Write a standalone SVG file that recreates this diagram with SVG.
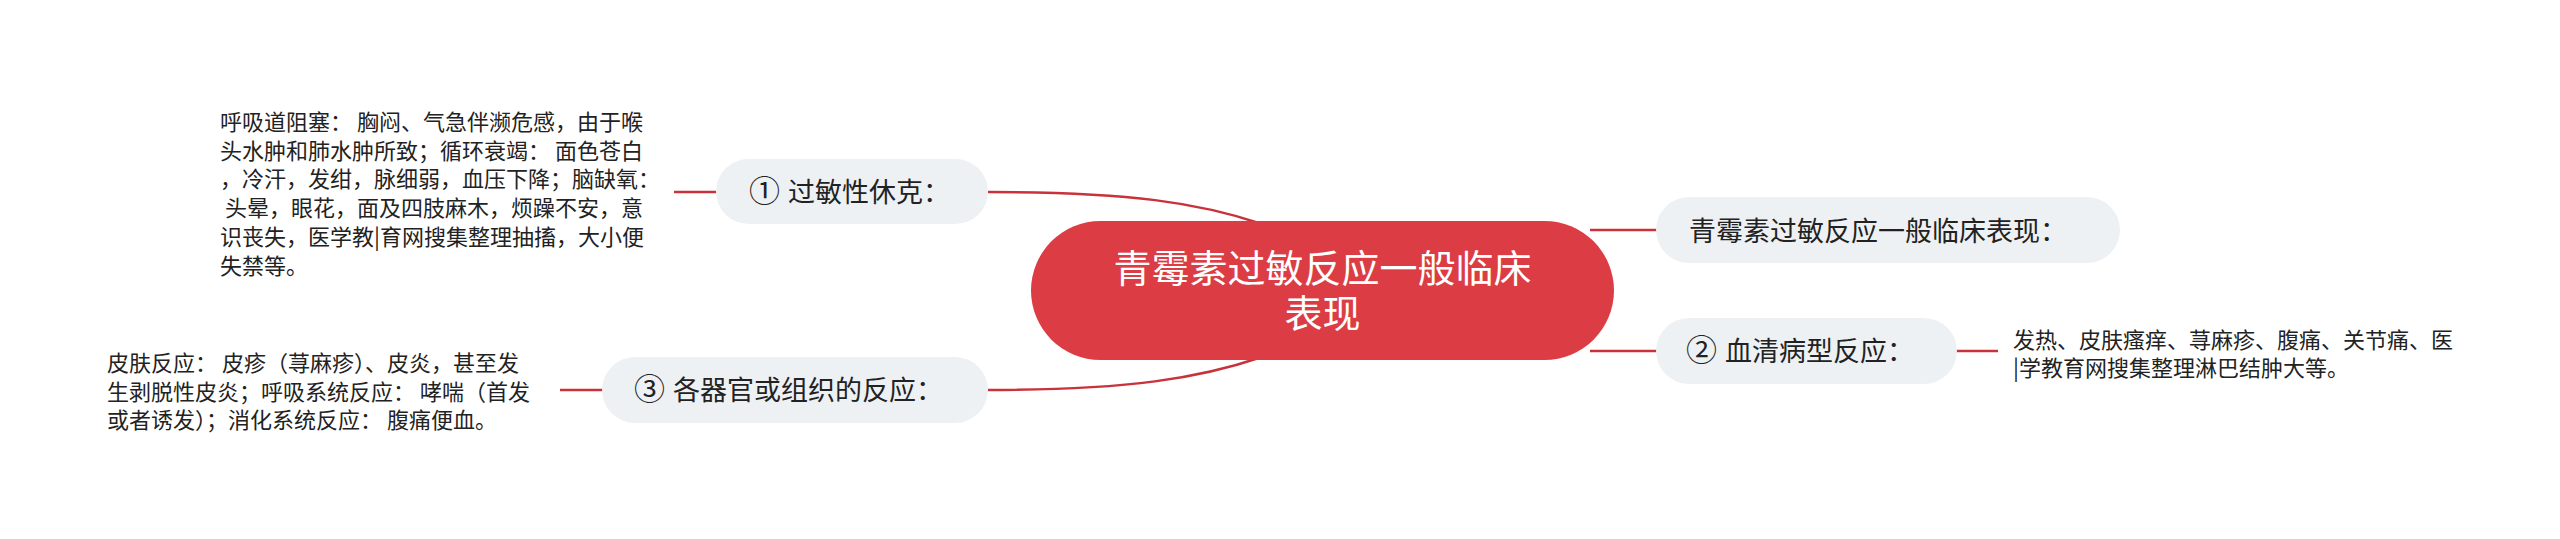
<svg xmlns="http://www.w3.org/2000/svg" width="2560" height="539" viewBox="0 0 2560 539">
<style>
.bg{fill:#ffffff}
.conn{fill:none;stroke:#c9323b;stroke-width:2.5;stroke-linecap:butt}
.sub{fill:#eef1f4}
.root{fill:#dc3d45}
.t{font-family:"Noto Sans CJK SC","Noto Sans",sans-serif;fill:#222222}
.leaf{font-size:22px}
.node{font-size:27px}
.num{font-size:31px}
.rt{font-size:38px;fill:#ffffff;text-anchor:middle}
</style>
<rect class="bg" x="0" y="0" width="2560" height="539"/>
<g id="connectors">
<path class="conn" d="M674,192 H717"/>
<path class="conn" d="M988,192 C1130,192 1200,203 1262,224"/>
<path class="conn" d="M988,390 C1130,390 1200,378 1262,357"/>
<path class="conn" d="M1590,230 H1657"/>
<path class="conn" d="M1590,351 H1657"/>
<path class="conn" d="M1956,351 H1998"/>
<path class="conn" d="M560,390 H603"/>
</g>
<g id="root">
<rect class="root" x="1031" y="221" width="583" height="139" rx="69.5"/>
<text class="t rt" x="1322.5" y="282">青霉素过敏反应一般临床</text>
<text class="t rt" x="1322.5" y="327">表现</text>
</g>
<g id="node-shock">
<rect class="sub" x="716" y="159" width="272" height="65" rx="32.5"/>
<text class="t node" x="749" y="201.5"><tspan class="num">①</tspan><tspan dx="8">过敏性休克：</tspan></text>
</g>
<g id="leaf-shock">
<text class="t leaf" xml:space="preserve"><tspan x="220" y="130">呼吸道阻塞： 胸闷、气急伴濒危感，由于喉</tspan><tspan x="220" y="159">头水肿和肺水肿所致；循环衰竭： 面色苍白</tspan><tspan x="220" y="187">，冷汗，发绀，脉细弱，血压下降；脑缺氧：</tspan><tspan x="220" y="216"> 头晕，眼花，面及四肢麻木，烦躁不安，意</tspan><tspan x="220" y="245">识丧失，医学教|育网搜集整理抽搐，大小便</tspan><tspan x="220" y="274">失禁等。</tspan></text>
</g>
<g id="node-general">
<rect class="sub" x="1656" y="197" width="464" height="66" rx="33"/>
<text class="t node" x="1689" y="240.5">青霉素过敏反应一般临床表现：</text>
</g>
<g id="node-serum">
<rect class="sub" x="1656" y="318" width="301" height="66" rx="33"/>
<text class="t node" x="1686" y="361"><tspan class="num">②</tspan><tspan dx="8">血清病型反应：</tspan></text>
</g>
<g id="leaf-serum">
<text class="t leaf"><tspan x="2013" y="348">发热、皮肤瘙痒、荨麻疹、腹痛、关节痛、医</tspan><tspan x="2013" y="376">|学教育网搜集整理淋巴结肿大等。</tspan></text>
</g>
<g id="node-organ">
<rect class="sub" x="602" y="357" width="386" height="66" rx="33"/>
<text class="t node" x="634" y="400"><tspan class="num">③</tspan><tspan dx="8">各器官或组织的反应：</tspan></text>
</g>
<g id="leaf-organ">
<text class="t leaf" xml:space="preserve"><tspan x="107" y="371">皮肤反应： 皮疹（荨麻疹）、皮炎，甚至发</tspan><tspan x="107" y="400">生剥脱性皮炎；呼吸系统反应： 哮喘（首发</tspan><tspan x="107" y="428">或者诱发）；消化系统反应： 腹痛便血。</tspan></text>
</g>
</svg>
